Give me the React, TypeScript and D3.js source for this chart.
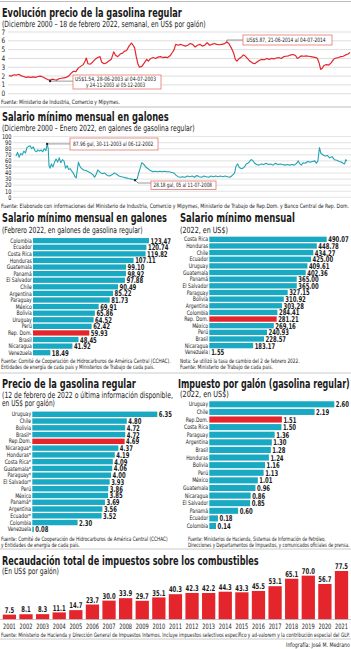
import React from "react";
import * as d3 from "d3";

// ---------- DATA ----------
const gasYears = [2000.95,2001.1,2001.25,2001.4,2001.55,2001.7,2001.85,2002.0,2002.15,2002.3,2002.45,2002.6,2002.75,2002.9,2003.05,2003.2,2003.35,2003.5,2003.65,2003.8,2003.9,2004.05,2004.2,2004.35,2004.5,2004.65,2004.8,2004.95,2005.1,2005.25,2005.4,2005.55,2005.65,2005.75,2005.85,2006.0,2006.15,2006.3,2006.45,2006.6,2006.7,2006.85,2007.0,2007.15,2007.3,2007.45,2007.55,2007.7,2007.85,2008.0,2008.1,2008.25,2008.4,2008.55,2008.65,2008.75,2008.85,2008.95,2009.05,2009.2,2009.35,2009.5,2009.6,2009.75,2009.9,2010.05,2010.2,2010.35,2010.5,2010.65,2010.8,2010.95,2011.1,2011.2,2011.3,2011.45,2011.6,2011.75,2011.9,2012.05,2012.2,2012.35,2012.5,2012.65,2012.8,2012.95,2013.1,2013.25,2013.4,2013.55,2013.7,2013.85,2014.0,2014.15,2014.3,2014.47,2014.6,2014.75,2014.9,2015.0,2015.1,2015.25,2015.4,2015.5,2015.6,2015.75,2015.9,2016.05,2016.2,2016.35,2016.5,2016.65,2016.8,2016.95,2017.1,2017.25,2017.4,2017.55,2017.7,2017.85,2018.0,2018.15,2018.3,2018.45,2018.6,2018.75,2018.85,2018.95,2019.1,2019.25,2019.4,2019.55,2019.7,2019.85,2020.0,2020.1,2020.2,2020.3,2020.4,2020.5,2020.65,2020.8,2020.95,2021.1,2021.25,2021.4,2021.55,2021.7,2021.85,2022.0,2022.12];
const gasPrices = [2.05,2.0,2.15,2.1,2.2,2.05,1.95,1.85,1.9,1.85,1.9,1.85,1.95,2.0,1.9,1.75,1.6,1.54,1.65,1.58,1.54,1.7,1.75,1.8,1.85,2.0,2.3,2.55,2.5,2.9,3.1,3.3,3.6,4.05,3.4,3.35,3.6,3.9,4.1,4.2,3.6,3.4,3.5,3.7,3.9,4.75,4.4,4.2,4.5,4.6,4.8,4.9,5.4,5.75,5.5,5.2,4.2,3.4,3.0,3.1,3.5,3.9,3.7,4.0,4.1,4.0,4.15,4.2,4.1,4.15,4.1,4.3,4.7,5.0,5.6,5.5,5.6,5.5,5.4,5.5,5.7,5.6,5.3,5.5,5.6,5.4,5.5,5.8,5.5,5.6,5.7,5.6,5.55,5.6,5.65,5.87,5.7,5.2,4.6,3.9,3.7,4.0,4.2,4.4,4.3,4.0,3.7,3.5,3.4,3.6,3.8,3.9,3.85,4.0,3.9,4.0,3.95,4.05,4.1,4.0,4.2,4.25,4.3,4.4,4.45,4.3,4.0,4.1,4.3,4.25,4.3,4.25,4.2,4.15,4.1,4.0,3.5,2.75,2.9,3.2,3.3,3.25,3.5,3.9,4.05,4.1,4.2,4.25,4.4,4.5,4.69];
const gasTicks = [0,1,2,3,4,5,6,7];

const galYears = [2000.95,2001.05,2001.15,2001.25,2001.35,2001.45,2001.55,2001.65,2001.75,2001.85,2001.95,2002.05,2002.15,2002.25,2002.35,2002.45,2002.55,2002.65,2002.75,2002.85,2002.93,2003.0,2003.05,2003.12,2003.2,2003.3,2003.4,2003.5,2003.6,2003.7,2003.8,2003.9,2004.0,2004.1,2004.2,2004.3,2004.4,2004.5,2004.6,2004.7,2004.78,2004.85,2004.92,2005.0,2005.1,2005.25,2005.4,2005.55,2005.7,2005.85,2005.95,2006.05,2006.15,2006.3,2006.45,2006.6,2006.75,2006.9,2007.05,2007.2,2007.35,2007.5,2007.65,2007.8,2007.95,2008.1,2008.3,2008.52,2008.65,2008.75,2008.85,2008.95,2009.05,2009.2,2009.35,2009.5,2009.65,2009.8,2009.95,2010.1,2010.25,2010.4,2010.55,2010.7,2010.85,2011.0,2011.1,2011.25,2011.4,2011.55,2011.7,2011.85,2012.0,2012.15,2012.3,2012.45,2012.6,2012.75,2012.9,2013.05,2013.2,2013.35,2013.5,2013.65,2013.8,2013.95,2014.1,2014.25,2014.4,2014.55,2014.7,2014.85,2014.95,2015.05,2015.15,2015.3,2015.45,2015.6,2015.75,2015.9,2016.0,2016.1,2016.25,2016.4,2016.55,2016.7,2016.85,2017.0,2017.15,2017.3,2017.45,2017.6,2017.75,2017.9,2018.05,2018.2,2018.35,2018.5,2018.65,2018.8,2018.9,2019.0,2019.1,2019.2,2019.35,2019.5,2019.65,2019.8,2019.95,2020.05,2020.15,2020.25,2020.33,2020.45,2020.6,2020.75,2020.9,2021.05,2021.2,2021.35,2021.5,2021.65,2021.75,2021.85,2021.92,2022.0];
const galValues = [68,74,66,72,70,76,73,82,84,85,80,83,77,75,78,76,78,75,80,77,87.96,80,52,48,55,50,58,63,58,65,57,62,60,48,52,46,47,43,40,34,32,45,58,52,48,45,44,42,40,37,33,38,45,41,39,40,36,35,37,40,38,35,34,33,32,31,30,28.18,30,40,48,57,55,50,47,44,42,43,42,43,42,43,42,42,41,40,37,34,33,34,33,35,34,35,33,36,34,33,35,34,33,35,34,35,34,35,34,35,34,33,36,40,52,55,49,47,49,55,57,62,61,57,54,53,55,54,56,54,55,53,56,54,55,54,53,54,53,54,53,56,60,55,53,57,56,59,58,59,60,56,60,82,73,70,68,69,65,67,62,61,59,58,56,55,62,60];
const galTicks = [0,10,20,30,40,50,60,70,80,90,100];

const galCountries = ["Colombia","Ecuador","Costa Rica","Honduras","Guatemala","Panamá","El Salvador","Chile","Argentina","Paraguay","México","Bolivia","Uruguay","Perú","Rep. Dom.","Brasil","Nicaragua","Venezuela"];
const galFeb2022 = [123.47,120.74,119.82,107.11,99.10,98.92,97.88,90.49,85.22,81.73,69.91,65.86,64.52,62.42,59.93,48.45,41.92,18.49];

const wageCountries = ["Costa Rica","Honduras","Chile","Ecuador","Uruguay","Guatemala","Panamá","El Salvador","Paraguay","Bolivia","Argentina","Colombia","Rep. Dom.","México","Perú","Brasil","Nicaragua","Venezuela"];
const wageUSD = [490.07,448.78,434.27,425.00,409.61,402.36,365.00,365.00,327.15,310.92,303.28,284.41,281.21,269.16,240.93,228.57,183.17,1.55];

const priceCountries = ["Uruguay","Chile","Bolivia","Brasil*","Rep.Dom.","Nicaragua*","Honduras*","Costa Rica*","Guatemala*","Paraguay*","El Salvador*","Perú","México","Panamá*","Argentina","Ecuador*","Colombia","Venezuela"];
const priceUSD = [6.35,4.80,4.72,4.72,4.69,4.37,4.19,4.09,4.06,4.00,3.93,3.86,3.85,3.69,3.56,3.52,2.30,0.08];

const taxCountries = ["Uruguay","Chile","Rep.Dom.","Costa Rica","Paraguay","Argentina","Brasil","Honduras","Bolivia","Perú","México","Guatemala","Nicaragua","El Salvador","Panamá","Ecuador","Colombia"];
const taxUSD = [2.60,2.19,1.51,1.50,1.36,1.30,1.28,1.24,1.16,1.13,1.01,0.96,0.86,0.85,0.60,0.18,0.14];

const revYears = ["2001","2002","2003","2004","2005","2006","2007","2008","2009","2010","2011","2012","2013","2014","2015","2016","2017","2018","2019","2020","2021"];
const revValues = [7.5,8.1,8.3,11.1,14.7,23.7,30.0,33.9,29.7,35.1,40.3,42.3,42.2,44.3,43.3,45.5,53.1,65.1,70.0,56.7,77.5];

// ---------- STYLE ----------
const FAMILY = "DejaVu Sans Condensed";
const FONT = `'${FAMILY}', sans-serif`;
const RED = "#e4262c";
const TEAL = "#19a9c3";
const LINE_TEAL = "#21a5b3";
const GRID = "#cfcfcf";
const RULE = "#bdbdbd";
const INK = "#1a1a1a";

let _ctx: CanvasRenderingContext2D | null = null;
function measure(s: string, size: number, bold?: boolean): number {
  if (!_ctx) _ctx = document.createElement("canvas").getContext("2d");
  if (!_ctx) return s.length * size * 0.55;
  _ctx.font = `${bold ? "bold " : ""}${size}px '${FAMILY}', sans-serif`;
  return _ctx.measureText(s).width || s.length * size * 0.55;
}

type TProps = { x: number; y: number; w?: number; sx?: number; size: number; bold?: boolean; anchor?: string; fill?: string; children: string };
const T = ({ x, y, w, sx, size, bold, anchor, fill, children }: TProps) => {
  const k = w ? w / measure(children, size, bold) : sx || 1;
  return (
    <text transform={`translate(${x},${y}) scale(${k},1)`} x={0} y={0} fontSize={size} fontWeight={bold ? 700 : 400}
      textAnchor={anchor || "start"} fill={fill || INK}>{children}</text>
  );
};

type HBarProps = { names: string[]; values: number[]; x0: number; x1: number; y0: number; y1: number; max: number; fmt: (v: number) => string; hl: string; pad?: number };
const HBars = ({ names, values, x0, x1, y0, y1, max, fmt, hl, pad = 0.2 }: HBarProps) => {
  const yS = d3.scaleBand<string>().domain(names).range([y0, y1]).paddingInner(pad).paddingOuter(pad / 2);
  const xS = d3.scaleLinear().domain([0, max]).range([x0, x1]);
  const bw = yS.bandwidth();
  return (
    <g>
      {names.map((n, i) => {
        const yy = yS(n)!;
        const cy = yy + bw / 2;
        return (
          <g key={n}>
            <T x={x0 - 1.2} y={cy + 2.1} size={6.2} sx={0.82} anchor="end">{n}</T>
            <rect x={x0} y={yy} width={Math.max(0, xS(values[i]) - x0)} height={bw} fill={n === hl ? RED : TEAL} />
            <T x={xS(values[i]) + 1.5} y={cy + 3} size={8} sx={0.74} bold>{fmt(values[i])}</T>
          </g>
        );
      })}
    </g>
  );
};

export default function App() {
  const gx = d3.scaleLinear().domain([2000.95, 2022.12]).range([9, 350]);
  const gy = d3.scaleLinear().domain([0, 7]).range([93.7, 32]);
  const gasLine = d3.line<number>().x((_, i) => gx(gasYears[i])).y((d) => gy(d))(gasPrices) || "";
  const minGas = gasPrices.indexOf(1.54);
  const maxGas = gasPrices.indexOf(5.87);

  const sx = d3.scaleLinear().domain([2000.95, 2022.0]).range([16, 347]);
  const sy = d3.scaleLinear().domain([0, 100]).range([197.3, 136.6]);
  const galLine = d3.line<number>().x((_, i) => sx(galYears[i])).y((d) => sy(d))(galValues) || "";
  const maxGal = galValues.indexOf(87.96);
  const minGal = galValues.indexOf(28.18);

  const rx = d3.scaleBand<string>().domain(revYears).range([1.1, 349.8]).paddingInner(0.2).paddingOuter(0.1);
  const ry = d3.scaleLinear().domain([0, 77.5]).range([619.3, 571]);

  const p1 = { x: gx(gasYears[minGas]), y: gy(gasPrices[minGas]) };
  const p2 = { x: gx(gasYears[maxGas]), y: gy(gasPrices[maxGas]) };
  const q1 = { x: sx(galYears[maxGal]), y: sy(galValues[maxGal]) };
  const q2 = { x: sx(galYears[minGal]), y: sy(galValues[minGal]) };

  return (
    <svg width={351} height={649} style={{ position: "absolute", left: 0, top: 0, background: "#fff" }} fontFamily={FONT}>
      <rect x={0} y={0} width={351} height={649} fill="#fff" />
      <line x1={0} x2={351} y1={1.5} y2={1.5} stroke={RULE} strokeWidth={1} />
      <line x1={0} x2={351} y1={107} y2={107} stroke={RULE} strokeWidth={1} />
      <line x1={0} x2={351} y1={373} y2={373} stroke={RULE} strokeWidth={0.8} />
      <line x1={0} x2={351} y1={549} y2={549} stroke={RULE} strokeWidth={0.8} />
      <line x1={0} x2={351} y1={639} y2={639} stroke={RULE} strokeWidth={0.8} />

      {/* ===== Chart 1: gas price ===== */}
      <T x={2} y={16.5} w={180} size={13} bold>Evolución precio de la gasolina regular</T>
      <T x={2} y={27} w={204} size={8.5}>(Diciembre 2000 – 18 de febrero 2022, semanal, en US$ por galón)</T>
      {gasTicks.map((t) => (
        <g key={t}>
          <line x1={8} x2={351} y1={gy(t)} y2={gy(t)} stroke={GRID} strokeWidth={0.7} />
          <T x={1.5} y={gy(t) + 2.6} size={7.5} sx={0.85}>{String(t)}</T>
        </g>
      ))}
      <path d={gasLine} fill="none" stroke={RED} strokeWidth={1.2} strokeLinejoin="round" />
      <polyline points={`${p1.x},${p1.y + 1} ${73},${p1.y + 1}`} fill="none" stroke="#555" strokeWidth={0.6} />
      <rect x={p1.x - 1} y={p1.y} width={2} height={2} fill="#222" />
      <rect x={73} y={75} width={88} height={14} fill="#fff" stroke="#e5746f" strokeWidth={0.8} />
      <T x={75} y={81.3} w={84} size={6}>US$1.54, 28-06-2003  al  04-07-2003</T>
      <T x={86} y={87.3} w={62} size={6}>y 24-11-2003  al  05-12-2003</T>
      <polyline points={`${p2.x},${p2.y} ${p2.x},${40} ${243},${40}`} fill="none" stroke="#555" strokeWidth={0.6} />
      <rect x={243} y={35} width={89} height={10} fill="#fff" stroke="#e5746f" strokeWidth={0.8} />
      <T x={246.5} y={42.2} w={82} size={6}>US$5.87, 21-06-2014  al  04-07-2014</T>
      <T x={1} y={104} w={119} size={6}>Fuente: Ministerio de Industria, Comercio y Mipymes.</T>

      {/* ===== Chart 2: gallons line ===== */}
      <T x={2} y={121} w={167} size={13} bold>Salario mínimo mensual en galones</T>
      <T x={2} y={131} w={193} size={8.5}>(Diciembre 2000 – Enero 2022, en galones de gasolina regular)</T>
      {galTicks.map((t) => (
        <g key={t}>
          <line x1={13} x2={351} y1={sy(t)} y2={sy(t)} stroke={GRID} strokeWidth={0.6} />
          <T x={11.5} y={sy(t) + 2.3} size={6.6} sx={0.85} anchor="end">{String(t)}</T>
        </g>
      ))}
      <path d={galLine} fill="none" stroke={LINE_TEAL} strokeWidth={1.1} strokeLinejoin="round" />
      <polyline points={`${q1.x},${q1.y} ${70},${q1.y}`} fill="none" stroke="#555" strokeWidth={0.6} />
      <rect x={q1.x - 1} y={q1.y - 1} width={2} height={2} fill="#222" />
      <rect x={70} y={138} width={88} height={12} fill="#fff" stroke="#e5746f" strokeWidth={0.8} />
      <T x={73} y={146.2} w={82} size={6}>87.96 gal, 30-11-2003  al 06-12-2002</T>
      <polyline points={`${q2.x},${q2.y} ${q2.x + 3},${183} ${151},${183}`} fill="none" stroke="#555" strokeWidth={0.6} />
      <rect x={q2.x - 1} y={q2.y - 1} width={2} height={2} fill="#222" />
      <rect x={151} y={181} width={65} height={8.5} fill="#fff" stroke="#e5746f" strokeWidth={0.8} />
      <T x={153.5} y={187.4} w={60} size={6}>28.18 gal,  05 al 11-07-2008</T>
      <T x={1} y={207.5} w={349} size={6}>Fuente: Elaborado con informaciones del Ministerio de Industria, Comercio y Mipymes, Ministerio de Trabajo de Rep.Dom. y Banco Central de Rep. Dom.</T>

      {/* ===== Chart 3: gallons bars ===== */}
      <T x={2} y={222} w={165} size={13} bold>Salario mínimo mensual en galones</T>
      <T x={2} y={232.5} w={141} size={8.5}>(Febrero 2022, en galones de gasolina regular)</T>
      <HBars names={galCountries} values={galFeb2022} x0={33} x1={149} y0={237.4} y1={356.0} max={123.47} fmt={(v) => v.toFixed(2)} hl="Rep. Dom." />
      <T x={1} y={363} w={170} size={6}>Fuente: Comité de Cooperación de Hidrocarburos de América Central (CCHAC).</T>
      <T x={1} y={368.5} w={154} size={6}>Entidades de energía de cada país y Ministerios de Trabajo de cada país.</T>

      {/* ===== Chart 4: wage USD ===== */}
      <T x={180} y={222} w={115} size={13} bold>Salario mínimo mensual</T>
      <T x={180} y={232.5} w={48} size={8.5}>(2022, en US$)</T>
      <HBars names={wageCountries} values={wageUSD} x0={209.3} x1={326.7} y0={236} y1={355.6} max={490.07} fmt={(v) => v.toFixed(2)} hl="Rep. Dom." />
      <T x={180} y={363} w={120} size={6}>Nota: Se utilizó la tasa de cambio del 2 de febrero 2022.</T>
      <T x={180} y={368.5} w={93} size={6}>Fuente: Ministerio de Trabajo de cada país.</T>

      {/* ===== Chart 5: gas price bars ===== */}
      <T x={2} y={388} w={134} size={13} bold>Precio de la gasolina regular</T>
      <T x={2} y={397.5} w={171} size={8.5}>(12 de febrero de 2022 o última información disponible,</T>
      <T x={2} y={405.5} w={53} size={8.5}>en US$ por galón)</T>
      <HBars names={priceCountries} values={priceUSD} x0={32.3} x1={157.3} y0={410.9} y1={532.7} max={6.35} fmt={(v) => v.toFixed(2)} hl="Rep.Dom." />
      <T x={1} y={541} w={167} size={6}>Fuente: Comité de Cooperación de Hidrocarburos de América Central (CCHAC)</T>
      <T x={1} y={547} w={79} size={6}>y Entidades de energía de cada país.</T>

      {/* ===== Chart 6: tax per gallon ===== */}
      <T x={178} y={388} w={172} size={13} bold>Impuesto por galón (gasolina regular)</T>
      <T x={180} y={397} w={49} size={8.5}>(2022, en US$)</T>
      <HBars names={taxCountries} values={taxUSD} x0={209.3} x1={334.3} y0={400.5} y1={529.8} max={2.6} fmt={(v) => v.toFixed(2)} hl="Rep.Dom." />
      <T x={188} y={541} w={138} size={6}>Fuente: Ministerios de Hacienda, Sistemas de Información de Petróleo,</T>
      <T x={188} y={547} w={162} size={6}>Direcciones y Departamentos de Impuestos, y comunicados oficiales de prensa.</T>

      {/* ===== Chart 7: revenue ===== */}
      <T x={2} y={565} w={257} size={13} bold>Recaudación total de impuestos sobre los combustibles</T>
      <T x={2} y={574} w={57} size={8.5}>(En US$ por galón)</T>
      {revYears.map((yr, i) => {
        const x = rx(yr)!;
        const bw = rx.bandwidth();
        return (
          <g key={yr}>
            <rect x={x} y={ry(revValues[i])} width={bw} height={ry(0) - ry(revValues[i])} fill={RED} />
            <T x={x + bw / 2} y={ry(revValues[i]) - 1.8} size={8} sx={0.74} bold anchor="middle">{revValues[i].toFixed(1)}</T>
            <T x={x + bw / 2} y={628.5} size={7.4} sx={0.76} anchor="middle">{yr}</T>
          </g>
        );
      })}
      <line x1={0} x2={351} y1={619.5} y2={619.5} stroke="#999" strokeWidth={0.5} />
      <T x={1} y={636.5} w={349} size={6}>Fuente: Ministerio de Hacienda y Dirección General de Impuestos Internos. Incluye impuestos selectivos específico y ad-valorem y la contribución especial del GLP.</T>
      <T x={286} y={647} w={64} size={6.3}>Infografía: José M. Medrano</T>
    </svg>
  );
}
